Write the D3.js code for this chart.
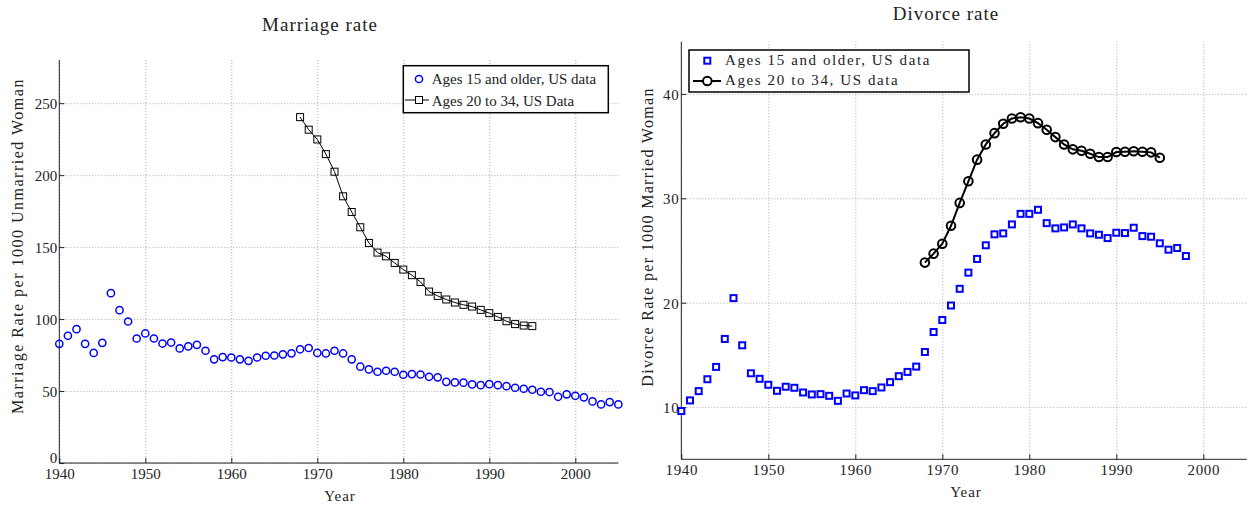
<!DOCTYPE html>
<html>
<head>
<meta charset="utf-8">
<script src="https://cdn.jsdelivr.net/npm/d3@7"></script>
<style>
  body { margin: 0; background: #fff; }
  svg text { font-family: "Liberation Serif", "DejaVu Serif", serif; fill: #222; }
  .grid line { stroke: #aaa; stroke-dasharray: 1,2; }
  .grid path { display: none; }
  .axis path, .axis line { stroke: #222; }
</style>
</head>
<body>
<div id="chart"></div>
<script>
var w = 1259;
var h = 506;

// *** DATA ***
var marriageYears15 = d3.range(1940, 2006),
    marriageYears2034 = d3.range(1968, 1996),
    divorceYears15 = d3.range(1940, 1999),
    divorceYears2034 = d3.range(1968, 1996);

var marriage15 = [
  82.8, 88.4, 93.0, 82.8, 76.5, 83.5, 118, 106.2, 98.3, 86.5,
  90, 86.5, 83, 83.7, 79.6, 81, 82.1, 78, 72, 73.6,
  73.3, 72, 71, 73.3, 74.5, 74.7, 75.5, 76.2, 79, 79.9,
  76.5, 76.1, 78, 76.1, 72, 66.9, 65, 63.4, 64.1, 63.4,
  61.3, 61.8, 61.5, 59.9, 59.5, 56.4, 56, 55.8, 54.6, 54.1,
  54.8, 54.1, 53.4, 52.3, 51.6, 50.9, 49.5, 49.3, 46, 47.7,
  46.7, 45.6, 42.8, 40.7, 42.3, 40.7];

var marriage2034 = [
  240.3, 231.6, 224.8, 214.6, 202.4, 185.3, 174.4, 163.8, 152.9, 146.2,
  143.6, 139, 134.4, 130.5, 125.8, 119.1, 116.1, 113.6, 111.5, 109.9,
  108.7, 106.4, 104.1, 101.5, 98.5, 96.5, 95.5, 95.1];

var divorce15 = [
  9.62, 10.64, 11.53, 12.67, 13.85, 16.53, 20.44, 15.92, 13.24, 12.71,
  12.14, 11.56, 11.95, 11.85, 11.4, 11.21, 11.24, 11.08, 10.6, 11.3,
  11.12, 11.62, 11.53, 11.88, 12.39, 12.96, 13.37, 13.88, 15.28, 17.19,
  18.34, 19.73, 21.33, 22.88, 24.19, 25.5, 26.55, 26.64, 27.5, 28.51,
  28.51, 28.9, 27.62, 27.12, 27.21, 27.5, 27.12, 26.64, 26.51, 26.19,
  26.7, 26.67, 27.18, 26.38, 26.32, 25.69, 25.08, 25.24, 24.47];

var divorce2034 = [
  23.84, 24.7, 25.65, 27.37, 29.56, 31.63, 33.7, 35.16, 36.24, 37.14,
  37.64, 37.77, 37.64, 37.2, 36.56, 35.86, 35.16, 34.69, 34.56, 34.27,
  33.95, 33.95, 34.43, 34.46, 34.5, 34.46, 34.4, 33.89];

var xTicks = [1940, 1950, 1960, 1970, 1980, 1990, 2000],
    marriageTicks = [0, 50, 100, 150, 200, 250],
    divorceTicks = [10, 20, 30, 40];

var legend15 = "Ages 15 and older, US data",
    legendMarriage2034 = "Ages 20 to 34, US Data",
    legendDivorce2034 = "Ages 20 to 34, US data";
// **************************

function zip(xs, ys) {
  return xs.map(function(x, i) { return {x: x, y: ys[i]}; });
}

var svg = d3.select("#chart")
    .append("svg")
    .attr("width", w)
    .attr("height", h);

// draws grid, axes and labels for one panel, returns the scales
function panel(opt) {
  var x = d3.scaleLinear().domain([1940, 2005]).range([opt.left, opt.right]),
      y = d3.scaleLinear().domain(opt.yDomain).range([opt.bottom, opt.top]);
  var g = svg.append("g");

  // grid
  g.append("g")
      .attr("class", "grid")
      .attr("transform", "translate(0," + opt.bottom + ")")
      .call(d3.axisBottom(x).tickValues(xTicks).tickSize(-(opt.bottom - opt.top)).tickFormat(""));
  g.append("g")
      .attr("class", "grid")
      .attr("transform", "translate(" + opt.left + ",0)")
      .call(d3.axisLeft(y).tickValues(opt.yTicks).tickSize(-(opt.right - opt.left)).tickFormat(""));

  // axes, ticks pointing inward
  var xa = g.append("g")
      .attr("class", "axis")
      .attr("transform", "translate(0," + opt.bottom + ")")
      .call(d3.axisBottom(x).tickValues(xTicks).tickSizeInner(-5).tickSizeOuter(0).tickFormat(d3.format("d")));
  xa.selectAll("text")
      .attr("y", opt.xTickBase)
      .attr("dy", 0)
      .style("font-size", "15px")
      .style("letter-spacing", opt.spacing + "px");
  var ya = g.append("g")
      .attr("class", "axis")
      .attr("transform", "translate(" + opt.left + ",0)")
      .call(d3.axisLeft(y).tickValues(opt.yTicks).tickSizeInner(-5).tickSizeOuter(0));
  ya.selectAll("text")
      .attr("x", -2)
      .attr("dy", function(d) { return d === 0 ? "-0.05em" : "0.36em"; })
      .style("font-size", "15px")
      .style("letter-spacing", opt.spacing + "px");
  xa.select(".domain").attr("d", "M" + opt.left + ",0H" + opt.right);
  ya.select(".domain").attr("d", "M0," + opt.bottom + "V" + opt.top);
  svg.selectAll(".axis text").attr("fill", "#222");

  // labels
  g.append("text")
      .attr("x", opt.titleX).attr("y", opt.titleY)
      .attr("text-anchor", "middle")
      .style("font-size", "19px")
      .style("letter-spacing", "1px")
      .text(opt.title);
  g.append("text")
      .attr("x", opt.xLabelX).attr("y", opt.xLabelY)
      .attr("text-anchor", "middle")
      .style("font-size", "15px")
      .style("letter-spacing", "1px")
      .text("Year");
  g.append("text")
      .attr("transform", "translate(" + opt.yLabelX + "," + opt.yLabelY + ") rotate(-90)")
      .attr("text-anchor", "middle")
      .style("font-size", "16px")
      .style("letter-spacing", opt.yLabelSpacing + "px")
      .text(opt.yLabel);

  return {x: x, y: y, g: g};
}

// ---------- Marriage rate ----------
var m = panel({
  left: 59.3, right: 618.3, top: 60, bottom: 463,
  yDomain: [0, 280], yTicks: marriageTicks, xTickBase: 16, spacing: 0,
  title: "Marriage rate", titleX: 320, titleY: 31,
  xLabelX: 340, xLabelY: 501,
  yLabel: "Marriage Rate per 1000 Unmarried Woman", yLabelX: 23, yLabelY: 246, yLabelSpacing: 1.5
});

var mLine = d3.line().x(function(d) { return m.x(d.x); }).y(function(d) { return m.y(d.y); });
m.g.append("path")
    .datum(zip(marriageYears2034, marriage2034))
    .attr("d", mLine)
    .attr("fill", "none")
    .attr("stroke", "#000")
    .attr("stroke-width", 1);
m.g.selectAll(".sq")
    .data(zip(marriageYears2034, marriage2034))
    .enter().append("rect")
      .attr("x", function(d) { return m.x(d.x) - 3.5; })
      .attr("y", function(d) { return m.y(d.y) - 3.5; })
      .attr("width", 7).attr("height", 7)
      .attr("fill", "none").attr("stroke", "#000").attr("stroke-width", 1);
m.g.selectAll(".circ")
    .data(zip(marriageYears15, marriage15))
    .enter().append("circle")
      .attr("cx", function(d) { return m.x(d.x); })
      .attr("cy", function(d) { return m.y(d.y); })
      .attr("r", 3.6)
      .attr("fill", "none").attr("stroke", "#0000ff").attr("stroke-width", 1.5);

// legend
var ml = svg.append("g");
ml.append("rect")
    .attr("x", 403.3).attr("y", 65.7).attr("width", 205).attr("height", 47)
    .attr("fill", "#fff").attr("stroke", "#000").attr("stroke-width", 1.5);
ml.append("circle").attr("cx", 419).attr("cy", 79).attr("r", 3.6)
    .attr("fill", "none").attr("stroke", "#0000ff").attr("stroke-width", 1.5);
ml.append("line").attr("x1", 405).attr("x2", 429).attr("y1", 100).attr("y2", 100)
    .attr("stroke", "#000");
ml.append("rect").attr("x", 415.5).attr("y", 96.5).attr("width", 7).attr("height", 7)
    .attr("fill", "#fff").attr("stroke", "#000");
ml.append("text").attr("x", 431.7).attr("y", 84).style("font-size", "15px").text(legend15);
ml.append("text").attr("x", 431.7).attr("y", 106).style("font-size", "15px").text(legendMarriage2034);

// ---------- Divorce rate ----------
var dv = panel({
  left: 681.3, right: 1246.8, top: 41.7, bottom: 459.3,
  yDomain: [5, 45], yTicks: divorceTicks, xTickBase: 16, spacing: 0.6,
  title: "Divorce rate", titleX: 946, titleY: 20,
  xLabelX: 966, xLabelY: 497,
  yLabel: "Divorce Rate per 1000 Married Woman", yLabelX: 653, yLabelY: 237, yLabelSpacing: 1.3
});

var dLine = d3.line().x(function(d) { return dv.x(d.x); }).y(function(d) { return dv.y(d.y); });
dv.g.append("path")
    .datum(zip(divorceYears2034, divorce2034))
    .attr("d", dLine)
    .attr("fill", "none")
    .attr("stroke", "#000")
    .attr("stroke-width", 2);
dv.g.selectAll(".circ")
    .data(zip(divorceYears2034, divorce2034))
    .enter().append("circle")
      .attr("cx", function(d) { return dv.x(d.x); })
      .attr("cy", function(d) { return dv.y(d.y); })
      .attr("r", 4.3)
      .attr("fill", "none").attr("stroke", "#000").attr("stroke-width", 2);
dv.g.selectAll(".sq")
    .data(zip(divorceYears15, divorce15))
    .enter().append("rect")
      .attr("x", function(d) { return dv.x(d.x) - 3; })
      .attr("y", function(d) { return dv.y(d.y) - 3; })
      .attr("width", 6).attr("height", 6)
      .attr("fill", "#fff").attr("stroke", "#0000ff").attr("stroke-width", 2);

// legend
var dl = svg.append("g");
dl.append("rect")
    .attr("x", 689).attr("y", 50).attr("width", 280).attr("height", 42)
    .attr("fill", "#fff").attr("stroke", "#000").attr("stroke-width", 1.5);
dl.append("rect").attr("x", 704.3).attr("y", 57.7).attr("width", 6).attr("height", 6)
    .attr("fill", "#fff").attr("stroke", "#0000ff").attr("stroke-width", 2);
dl.append("line").attr("x1", 693).attr("x2", 721).attr("y1", 81).attr("y2", 81)
    .attr("stroke", "#000").attr("stroke-width", 2);
dl.append("circle").attr("cx", 707.3).attr("cy", 81).attr("r", 4.3)
    .attr("fill", "#fff").attr("stroke", "#000").attr("stroke-width", 2);
dl.append("text").attr("x", 725).attr("y", 65).style("font-size", "15px")
    .style("letter-spacing", "1.6px").text(legend15);
dl.append("text").attr("x", 725).attr("y", 85).style("font-size", "15px")
    .style("letter-spacing", "1.6px").text(legendDivorce2034);
</script>
</body>
</html>
